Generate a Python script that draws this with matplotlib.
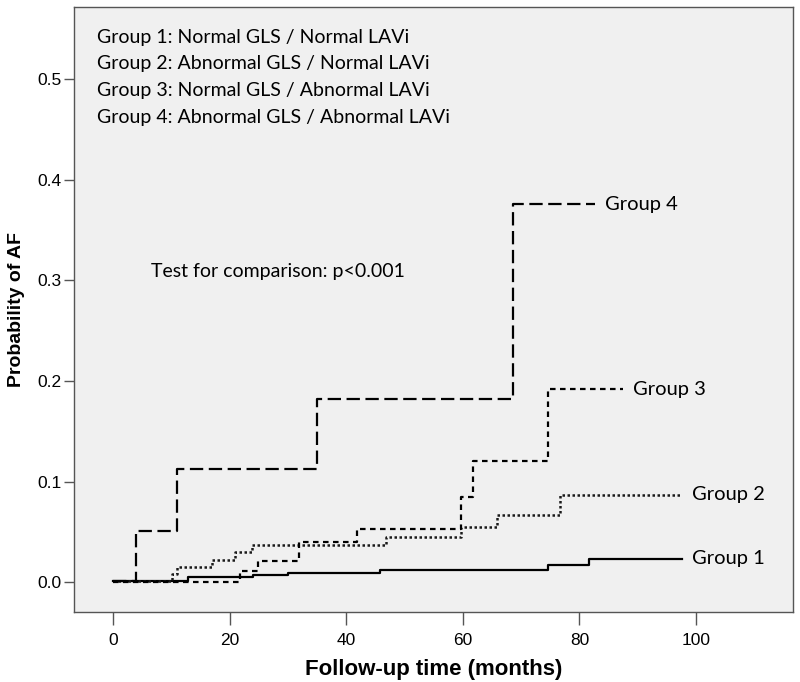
import matplotlib.pyplot as plt

# Kaplan-Meier style cumulative probability of AF
g1_t = [0, 12.9, 24.0, 30.0, 45.8, 74.6, 81.7, 97.6]
g1_p = [0.001, 0.005, 0.007, 0.009, 0.012, 0.017, 0.023, 0.023]

g2_t = [0, 10.1, 11.0, 17.0, 21.0, 23.9, 46.8, 59.7, 65.8, 76.7, 97.6]
g2_p = [0.001, 0.008, 0.015, 0.022, 0.030, 0.037, 0.045, 0.055, 0.067, 0.087, 0.087]

g3_t = [0, 21.8, 24.9, 31.9, 41.8, 59.7, 61.7, 74.6, 87.5]
g3_p = [0.0, 0.011, 0.021, 0.040, 0.053, 0.085, 0.120, 0.192, 0.192]

g4_t = [0, 3.9, 11.0, 35.0, 68.6, 82.7]
g4_p = [0.001, 0.051, 0.112, 0.182, 0.376, 0.376]

group_names = ['Group 1', 'Group 2', 'Group 3', 'Group 4']
legend_lines = [
    'Group 1: Normal GLS / Normal LAVi',
    'Group 2: Abnormal GLS / Normal LAVi',
    'Group 3: Normal GLS / Abnormal LAVi',
    'Group 4: Abnormal GLS / Abnormal LAVi',
]
x_ticks = [0, 20, 40, 60, 80, 100]
y_ticks = [0.0, 0.1, 0.2, 0.3, 0.4, 0.5]

txt_font = ['Lato', 'DejaVu Sans']
axis_font = ['Liberation Sans', 'DejaVu Sans']

fig = plt.figure(figsize=(8, 6.82), dpi=100)
ax = fig.add_axes([0.0925, 0.1026, 0.8985, 0.8871])
ax.set_facecolor('#f0f0f0')

ax.step(g1_t, g1_p, where='post', color='black', lw=1.6, linestyle='-')
ax.step(g2_t, g2_p, where='post', color='#1a1a1a', lw=1.8, linestyle=(0, (1, 1)))
ax.step(g3_t, g3_p, where='post', color='black', lw=1.6, linestyle=(0, (2.5, 2)))
ax.step(g4_t, g4_p, where='post', color='black', lw=1.6, linestyle=(0, (6, 2.5)))

# curve labels at the end of each line
ends = [(g1_t[-1], g1_p[-1]), (g2_t[-1], g2_p[-1]), (g3_t[-1], g3_p[-1]), (g4_t[-1], g4_p[-1])]
for name, (tx, py) in zip(group_names, ends):
    ax.text(tx + 1.7, py, name, fontsize=14.5, family=txt_font, va='center', ha='left')

for i, line in enumerate(legend_lines):
    ax.text(-2.7, 0.542 - i * 0.0265, line, fontsize=14, family=txt_font, va='center', ha='left')

ax.text(6.5, 0.309, 'Test for comparison: p<0.001', fontsize=14, family=txt_font,
        va='center', ha='left')

ax.set_xlim(-6.7, 116.6)
ax.set_ylim(-0.0298, 0.572)
ax.set_xticks(x_ticks)
ax.set_yticks(y_ticks)
ax.set_xticklabels([str(v) for v in x_ticks], family=axis_font, fontsize=12.5)
ax.set_yticklabels(['%.1f' % v for v in y_ticks], family=axis_font, fontsize=12.5)
ax.tick_params(axis='x', direction='out', length=9, width=1, color='#555555', pad=6)
ax.tick_params(axis='y', direction='out', length=7, width=1, color='#555555', pad=2)
for s in ax.spines.values():
    s.set_color('#555555')
    s.set_linewidth(1)

ax.set_xlabel('Follow-up time (months)', family=axis_font, fontsize=16,
              fontweight='bold', labelpad=8)
ax.set_ylabel('Probability of AF', family=axis_font, fontsize=14,
              fontweight='bold', labelpad=9)

fig.savefig('out.png', dpi=100)
